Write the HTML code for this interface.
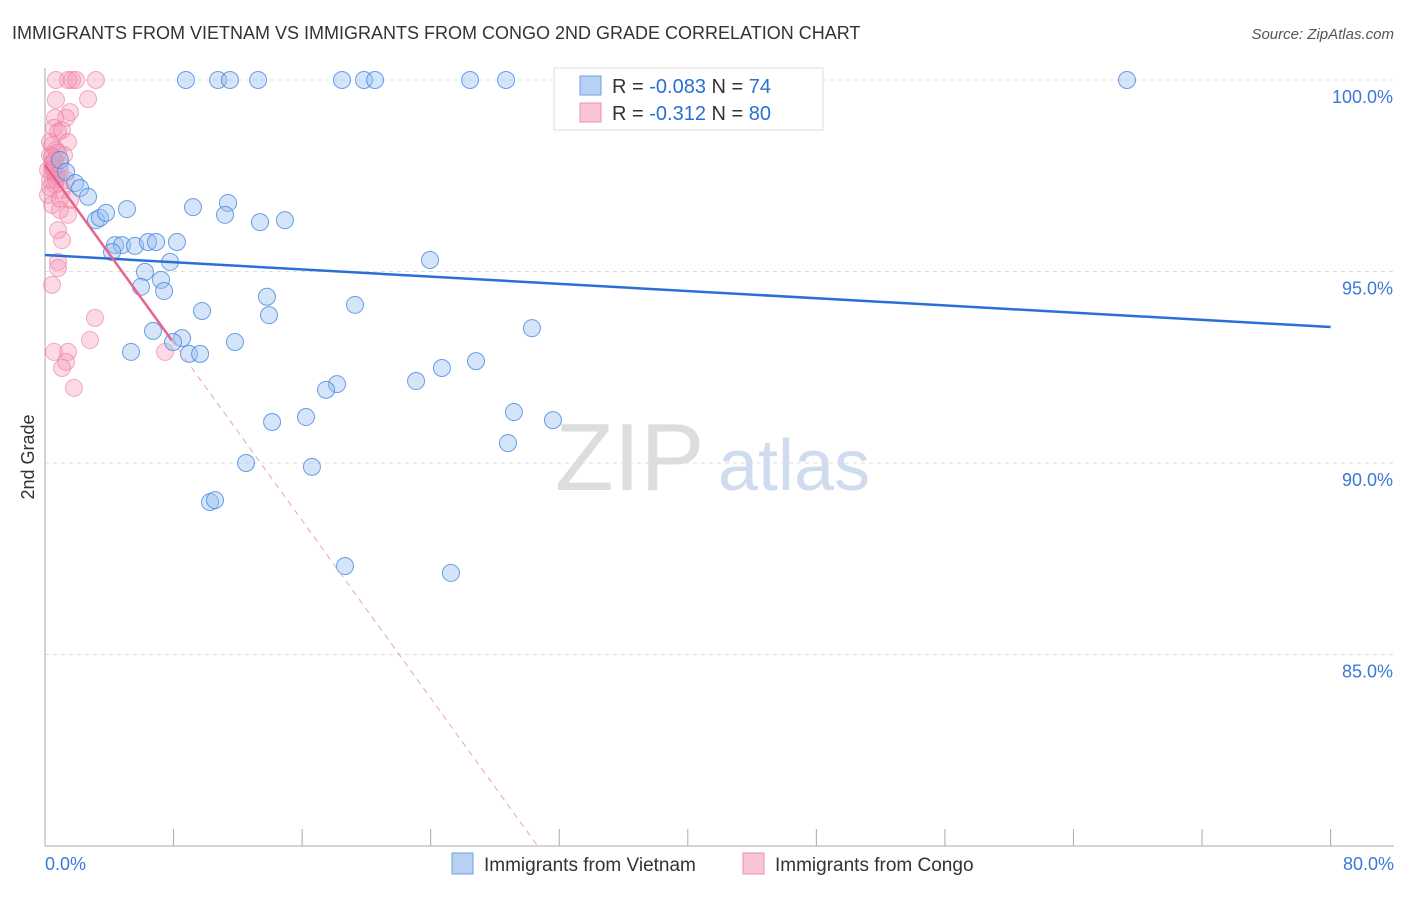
<!DOCTYPE html>
<html><head><meta charset="utf-8"><style>
body{margin:0;background:#fff;font-family:"Liberation Sans",sans-serif;}
svg text{font-family:"Liberation Sans",sans-serif;}
</style></head><body>
<svg id="c" width="1406" height="892">
<text x="12" y="39" font-size="18" fill="#333">IMMIGRANTS FROM VIETNAM VS IMMIGRANTS FROM CONGO 2ND GRADE CORRELATION CHART</text>
<text x="1394" y="39" font-size="15" fill="#555" font-style="italic" text-anchor="end">Source: ZipAtlas.com</text>
<text x="34" y="457" font-size="18" fill="#333" text-anchor="middle" transform="rotate(-90 34 457)">2nd Grade</text>
<text x="555" y="490" font-size="96" fill="#ddd" font-family="Liberation Serif">ZIP</text>
<text x="718" y="490" font-size="72" fill="#cfdcf0">atlas</text>
<g id="grid"></g><g id="pts"></g><g id="lines"></g>
<g>
<rect x="554" y="68" width="269" height="62" fill="#fff" stroke="#ddd"/>
<rect x="580" y="76" width="21" height="19" fill="#b8d1f3" stroke="#6f9ee0"/>
<rect x="580" y="103" width="21" height="19" fill="#f8c5d5" stroke="#ee8fae"/>
<text x="612" y="93" font-size="20" fill="#333">R = <tspan fill="#2a6fd6">-0.083</tspan>   N = <tspan fill="#2a6fd6">74</tspan></text>
<text x="612" y="120" font-size="20" fill="#333">R =  <tspan fill="#2a6fd6">-0.312</tspan>   N = <tspan fill="#2a6fd6">80</tspan></text>
</g>
<g>
<rect x="452" y="853" width="21" height="21" fill="#b8d1f3" stroke="#6f9ee0"/>
<text x="484" y="871" font-size="19" fill="#333">Immigrants from Vietnam</text>
<rect x="743" y="853" width="21" height="21" fill="#f8c5d5" stroke="#ee8fae"/>
<text x="775" y="871" font-size="19" fill="#333">Immigrants from Congo</text>
</g>
</svg>
<script>
const yTicks=[100,95,90,85];
const xTickLabels=["0.0%","80.0%"];
const blueX=[8.77,10.77,11.51,13.26,18.48,19.85,20.54,26.45,28.69,67.33,0.93,1.31,1.87,2.18,2.68,3.17,3.42,3.80,5.10,9.21,11.39,11.20,13.38,14.93,4.36,4.79,5.60,6.41,6.91,8.21,4.17,7.78,6.22,7.22,5.97,7.41,13.81,19.29,9.77,13.94,23.96,30.30,6.72,8.53,11.82,5.35,7.97,8.96,9.65,26.82,24.70,23.09,18.17,17.49,16.24,14.13,29.18,31.61,28.81,12.51,16.61,10.27,10.58,18.67,25.26];
const blueY=[100,100,100,100,100,100,100,100,100,100,97.91,97.60,97.31,97.18,96.95,96.34,96.40,96.53,96.63,96.68,96.79,96.48,96.29,96.34,95.69,95.69,95.67,95.77,95.77,95.77,95.51,95.25,94.99,94.78,94.60,94.49,94.34,94.13,93.97,93.86,95.30,93.52,93.45,93.26,93.16,92.90,93.16,92.85,92.85,92.66,92.48,92.14,92.06,91.91,91.20,91.07,91.33,91.12,90.52,90.00,89.90,88.98,89.03,87.31,87.13];
const pinkX=[0.68,1.43,1.68,1.93,3.17,2.68,1.56,1.31,0.62,0.56,0.81,1.06,1.43,0.44,0.68,1.18,0.31,0.62,0.93,0.44,0.81,1.31,0.31,0.62,1.06,0.19,1.56,0.44,0.93,1.43,0.81,1.06,0.81,0.81,0.44,3.11,2.80,0.56,1.43,1.31,1.06,1.80,7.47,0.19,0.31,0.68,0.56,0.93,0.44,0.68,0.81,0.56,0.44,0.68,0.31,0.93];
const pinkY=[100,100,100,100,100,99.50,99.16,99.01,99.01,98.75,98.64,98.69,98.38,98.30,98.17,98.04,98.04,97.91,97.78,97.65,97.52,97.39,97.39,97.26,97.13,97.00,96.87,96.74,96.61,96.48,96.08,95.82,95.25,95.09,94.65,93.79,93.21,92.90,92.90,92.64,92.48,91.96,92.90,97.65,98.38,99.48,97.9,97.6,97.8,97.5,98.1,97.7,98.0,97.4,97.2,96.9];
const blueTrend=[95.43,93.55];
const pinkTrend=[97.78,-0.58];
const X=v=>45+v*16.07, Y=v=>80+(100-v)*38.3;
const NS="http://www.w3.org/2000/svg";
function mk(t,a,p){const e=document.createElementNS(NS,t);for(const k in a)e.setAttribute(k,a[k]);document.getElementById(p).appendChild(e);return e;}
yTicks.forEach(t=>{
 const l=mk('line',{x1:45,x2:1394,y1:Y(t),y2:Y(t),stroke:'#ddd','stroke-dasharray':'4,4'},'grid');
 
 
 const tx=mk('text',{x:1393,y:Y(t)+23,'font-size':18,fill:'#3b78d8','text-anchor':'end'},'grid');
 tx.textContent=t.toFixed(1)+'%';
 
 
});
const ax=mk('line',{x1:45,x2:45,y1:68,y2:846,stroke:'#aaa'},'grid');


const bx=mk('line',{x1:45,x2:1394,y1:846,y2:846,stroke:'#aaa'},'grid');


for(let i=0;i<=10;i++){
 const t=mk('line',{x1:X(i*8),x2:X(i*8),y1:829,y2:846,stroke:'#aaa'},'grid');
 
 
}
xTickLabels.forEach((s,i)=>{
 const t=mk('text',{x:i?1394:45,y:870,'font-size':18,fill:'#3b78d8','text-anchor':i?'end':'start'},'grid');
 t.textContent=s;
 
 
});
pinkX.forEach((x,i)=>{
 const c=mk('circle',{cx:X(x),cy:Y(pinkY[i]),r:8.5,fill:'rgba(244,150,180,0.35)',stroke:'rgba(236,120,160,0.6)'},'pts');
 
 
});
blueX.forEach((x,i)=>{
 const c=mk('circle',{cx:X(x),cy:Y(blueY[i]),r:8.5,fill:'rgba(150,190,240,0.4)',stroke:'rgba(60,130,220,0.75)'},'pts');
 
 
});
const bl=mk('line',{x1:X(0),y1:Y(blueTrend[0]),x2:X(80),y2:Y(blueTrend[1]),stroke:'#2a6fd6','stroke-width':2.5},'lines');


const pe=7.9, pend=(pinkTrend[0]-80.03)/-pinkTrend[1];
const ps=mk('line',{x1:X(0),y1:Y(pinkTrend[0]),x2:X(pe),y2:Y(pinkTrend[0]+pinkTrend[1]*pe),stroke:'#e8628e','stroke-width':2.5},'lines');


const pd=mk('line',{x1:X(pe),y1:Y(pinkTrend[0]+pinkTrend[1]*pe),x2:X(pend),y2:Y(pinkTrend[0]+pinkTrend[1]*pend),stroke:'#eea0b8','stroke-width':1,'stroke-dasharray':'6,5'},'lines');


</script>
</body></html>
